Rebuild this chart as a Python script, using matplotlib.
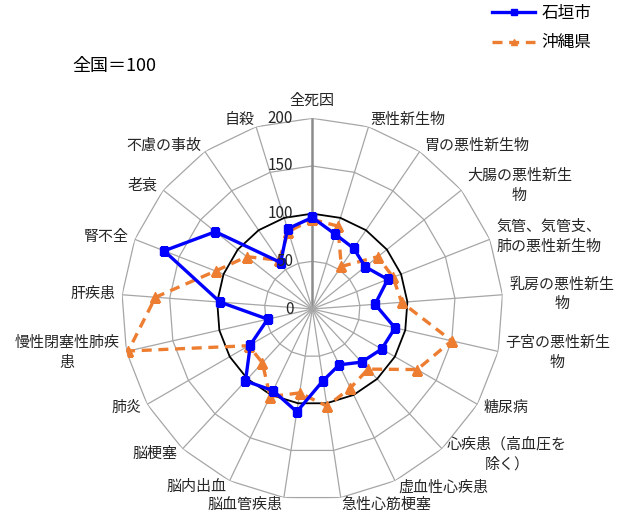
import numpy as np
import matplotlib
matplotlib.use("Agg")
import matplotlib.pyplot as plt

plt.rcParams['font.family'] = ['Noto Sans CJK JP', 'DejaVu Sans']

categories = ["全死因", "悪性新生物", "胃の悪性新生物", "大腸の悪性新生\n物",
              "気管、気管支、\n肺の悪性新生物", "乳房の悪性新生\n物", "子宮の悪性新生\n物",
              "糖尿病", "心疾患（高血圧を\n除く）", "虚血性心疾患", "急性心筋梗塞",
              "脳血管疾患", "脳内出血", "脳梗塞", "肺炎", "慢性閉塞性肺疾\n患",
              "肝疾患", "腎不全", "老衰", "不慮の事故", "自殺"]
ishigaki = [96, 82, 77, 71, 85, 66, 89, 84, 76, 65, 76, 109, 95, 103, 75, 48, 97, 167, 130, 59, 88]
okinawa = [94, 91, 54, 88, 91, 94, 150, 127, 86, 92, 103, 89, 102, 77, 77, 198, 165, 109, 88, 62, 85]
series_names = ["石垣市", "沖縄県"]
rticks = [0, 50, 100, 150, 200]

W, H = 619, 511
fig = plt.figure(figsize=(W / 100, H / 100), dpi=100)
cx, cy, R = 312.3, 309.0, 190.7
ax = fig.add_axes([(cx - R) / W, (H - cy - R) / H, 2 * R / W, 2 * R / H], projection='polar')
ax.set_theta_zero_location('N')
ax.set_theta_direction(-1)
ax.set_ylim(0, 200)
ax.grid(False)
ax.spines['polar'].set_visible(False)
ax.set_xticks([])
ax.set_yticks([])
ax.patch.set_alpha(0)

n = len(categories)
ang = np.linspace(0, 2 * np.pi, n, endpoint=False)
ang_c = np.append(ang, ang[0])

# polygon grid
for r in rticks[1:]:
    if r == 100:
        ax.plot(ang_c, [r] * (n + 1), color='black', lw=1.3, zorder=2)
    else:
        ax.plot(ang_c, [r] * (n + 1), color='#a6a6a6', lw=0.9, zorder=1)
for i, a in enumerate(ang):
    if i == 0:
        ax.plot([a, a], [0, 200], color='#8c8c8c', lw=1.8, zorder=1)
    else:
        ax.plot([a, a], [0, 200], color='#a6a6a6', lw=0.9, zorder=1)

# radial tick labels
for r in rticks:
    ax.annotate(str(r), xy=(0, r), xytext=(-19, 0), textcoords='offset pixels',
                ha='right', va='center', fontsize=11, color='#262626', zorder=5)

# category labels
pad = 7
for a, lab in zip(ang, categories):
    s, c = np.sin(a), np.cos(a)
    dx, dy = pad * s, pad * c
    if abs(s) < 0.05:
        ha = 'center'
        va = 'bottom' if c > 0 else 'top'
        dy = 10 if c > 0 else -10
    else:
        ha = 'left' if s > 0 else 'right'
        va = 'center'
    ax.annotate(lab, xy=(a, 200), xytext=(dx, dy), textcoords='offset pixels',
                ha=ha, va=va, multialignment='center', fontsize=10.8,
                color='#262626', linespacing=1.5, annotation_clip=False)

ax.plot(ang_c, ishigaki + ishigaki[:1], color='#0000ff', lw=2.4, marker='s',
        markersize=6.2, label=series_names[0], zorder=4)
ax.plot(ang_c, okinawa + okinawa[:1], color='#ed7d31', lw=2.4, linestyle=(0, (3, 2)),
        marker='^', markersize=7.5, label=series_names[1], zorder=3)

fig.legend(loc='upper left', bbox_to_anchor=(492 / W, 1 - 5 / H), frameon=False,
           borderaxespad=0, borderpad=0, fontsize=12, handlelength=2.6,
           handletextpad=0.35, labelspacing=0.75, markerscale=0.6)

fig.text(72 / W, 1 - 66 / H, "全国＝100", ha='left', va='center', fontsize=13, color='black')

fig.savefig("out.png", dpi=100)
